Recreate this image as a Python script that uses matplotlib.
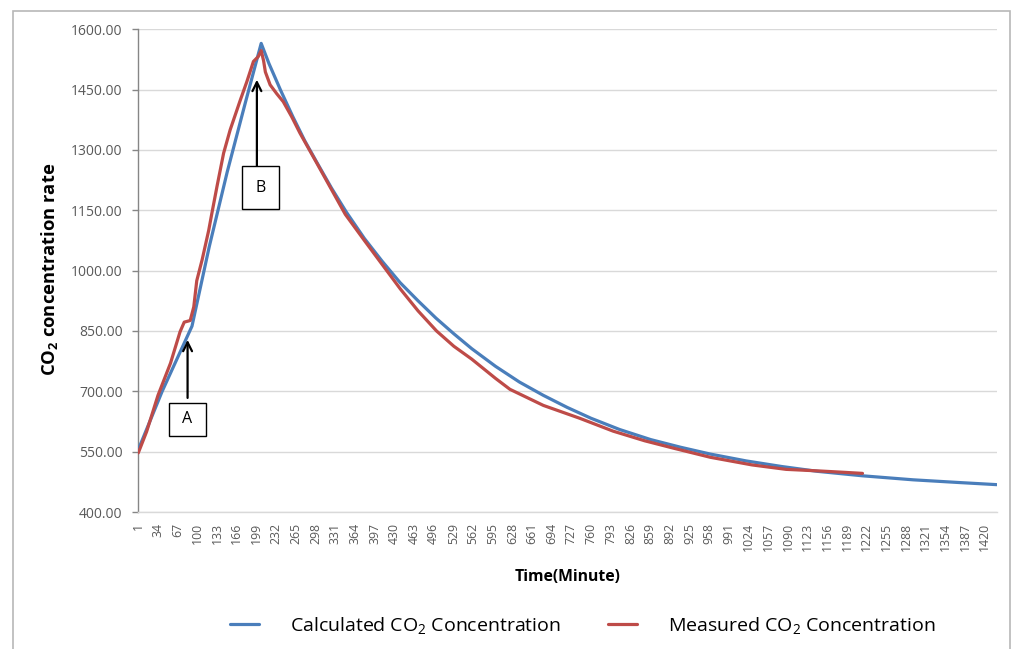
import matplotlib
matplotlib.use("Agg")
import matplotlib.pyplot as plt
from matplotlib.patches import Rectangle

# ---------------- data ----------------
calc_minutes = [1, 41, 91, 120, 150, 180, 207, 220, 240, 260, 280, 300, 325, 350,
                380, 410, 440, 470, 500, 530, 560, 600, 640, 680, 720, 760, 808,
                860, 910, 960, 1020, 1080, 1140, 1215, 1300, 1380, 1440]
calc_co2 = [555, 700, 862, 1060, 1245, 1415, 1565, 1515, 1447, 1383, 1323, 1270,
            1205, 1145, 1080, 1023, 970, 925, 882, 843, 806, 762, 723, 690, 660,
            633, 605, 580, 561, 544, 527, 513, 501, 490, 480, 473, 468]

meas_minutes = [1, 15, 34, 55, 71, 78, 88, 94, 99, 108, 119, 124, 133, 144, 155,
                172, 183, 194, 202, 207, 211, 214, 222, 233, 244, 258, 272, 300,
                348, 380, 410, 440, 470, 501, 530, 560, 600, 624, 680, 741, 797,
                850, 900, 960, 1030, 1087, 1143, 1180, 1215]
meas_co2 = [547, 600, 690, 770, 848, 872, 876, 910, 975, 1027, 1100, 1140, 1210,
            1292, 1350, 1424, 1470, 1520, 1532, 1547, 1522, 1494, 1462, 1440, 1420,
            1383, 1342, 1268, 1140, 1075, 1015, 955, 900, 850, 812, 780, 732, 705,
            665, 633, 601, 577, 558, 536, 517, 506, 502, 499, 496]

x_tick_labels = [1, 34, 67, 100, 133, 166, 199, 232, 265, 298, 331, 364, 397, 430,
                 463, 496, 529, 562, 595, 628, 661, 694, 727, 760, 793, 826, 859,
                 892, 925, 958, 991, 1024, 1057, 1090, 1123, 1156, 1189, 1222, 1255,
                 1288, 1321, 1354, 1387, 1420]
y_ticks = [400, 550, 700, 850, 1000, 1150, 1300, 1450, 1600]

series_names = ["Calculated CO$_2$ Concentration", "Measured CO$_2$ Concentration"]

# ---------------- style ----------------
plt.rcParams['font.family'] = ['Open Sans', 'DejaVu Sans']
plt.rcParams['mathtext.fontset'] = 'custom'
plt.rcParams['mathtext.rm'] = 'Open Sans'
plt.rcParams['mathtext.it'] = 'Open Sans'
plt.rcParams['mathtext.bf'] = 'Open Sans:bold'

BLUE = '#4a7ebb'
RED = '#be4b48'
TICK_GREY = '#595959'

W, H = 1015, 649
fig = plt.figure(figsize=(W / 100, H / 100), dpi=100)
ax = fig.add_axes([138 / W, 1 - 512 / H, (997 - 138) / W, (512 - 29.3) / H])

# outer frame
fig.patches.append(Rectangle((13 / W, -0.05), (1010 - 13) / W, 1.05 - 11 / H,
                             transform=fig.transFigure, fill=False,
                             edgecolor='#b8b8b8', linewidth=1.2))

ax.plot(calc_minutes, calc_co2, color=BLUE, linewidth=2.3, label=series_names[0],
        solid_capstyle='round', zorder=3)
ax.plot(meas_minutes, meas_co2, color=RED, linewidth=2.3, label=series_names[1],
        solid_capstyle='round', zorder=4)

ax.set_xlim(0.5, 1440.5)
ax.set_ylim(400, 1600)
ax.set_yticks(y_ticks)
ax.set_yticklabels([f"{v:.2f}" for v in y_ticks])
ax.set_xticks(x_tick_labels)
ax.set_xticklabels([str(v) for v in x_tick_labels], rotation=90)

ax.grid(axis='y', color='#d9d9d9', linewidth=1.0)
ax.set_axisbelow(True)
for s in ['top', 'right']:
    ax.spines[s].set_visible(False)
ax.spines['left'].set_color('#868686')
ax.spines['left'].set_linewidth(1.0)
ax.spines['bottom'].set_color('#d9d9d9')
ax.spines['bottom'].set_linewidth(1.0)

ax.tick_params(axis='y', direction='out', length=4, width=1, color='#868686',
               pad=7, labelsize=10, labelcolor=TICK_GREY)
ax.tick_params(axis='x', length=0, pad=8, labelsize=8.8, labelcolor=TICK_GREY)

# axis titles
fig.text(50 / W, 1 - 269 / H, r"CO$_\mathbf{2}$ concentration rate", rotation=90,
         ha='center', va='center', fontsize=13.2, fontweight='bold', color='black')
fig.text(568 / W, 1 - 577 / H, "Time(Minute)", ha='center', va='center',
         fontsize=11.3, fontweight='bold', color='black')

# annotations A and B
arrow_kw = dict(arrowstyle='->', color='black', lw=1.6, mutation_scale=16,
                shrinkA=0, shrinkB=0)
ax.annotate('', xy=(83.6, 828), xytext=(83.6, 683.6), arrowprops=arrow_kw, zorder=5)
ax.add_patch(Rectangle((51.8, 589.8), 114.4 - 51.8, 670.4 - 589.8, fill=True,
                       facecolor='white', edgecolor='black', linewidth=1.0, zorder=5))
ax.text(83.1, 630, "A", ha='center', va='center', fontsize=11.5, zorder=6)

ax.annotate('', xy=(199.8, 1474.6), xytext=(199.8, 1259), arrowprops=arrow_kw, zorder=5)
ax.add_patch(Rectangle((175.2, 1153), 237.7 - 175.2, 1259 - 1153, fill=True,
                       facecolor='white', edgecolor='black', linewidth=1.0, zorder=5))
ax.text(206.5, 1206, "B", ha='center', va='center', fontsize=11.5, zorder=6)

# legend
fig.legend(loc='center', bbox_to_anchor=(583 / W, 1 - 625 / H), ncol=2,
           frameon=False, fontsize=14, handlelength=1.5, handletextpad=1.6,
           columnspacing=2.4)

fig.savefig("out.png", dpi=100)
